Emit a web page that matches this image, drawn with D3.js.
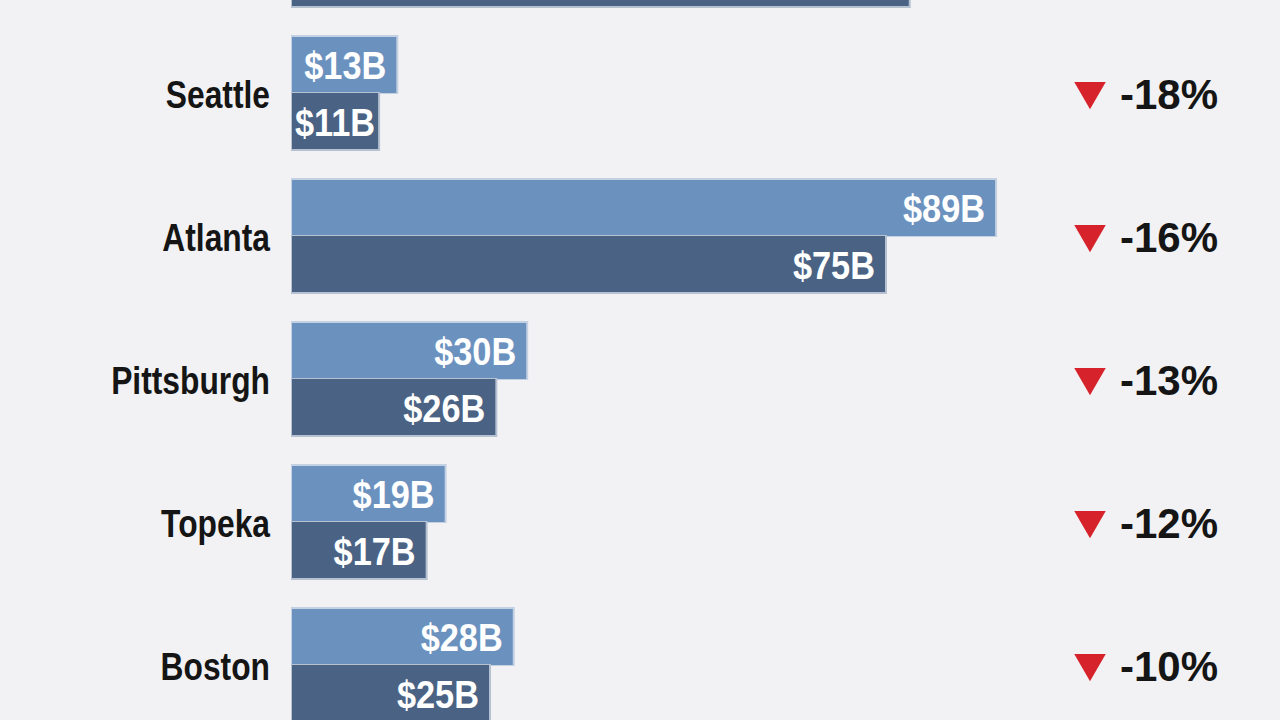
<!DOCTYPE html>
<html>
<head>
<meta charset="utf-8">
<script src="https://cdn.jsdelivr.net/npm/d3@7"></script>
<style>
  html, body { margin: 0; padding: 0; background: #f2f2f4; }
  svg { display: block; }
</style>
</head>
<body>
<svg id="chart" width="1280" height="720"></svg>
<script>
// Data (top row is cut off by the frame; only its lower bar's bottom edge shows)
const cities = ["(row above)", "Seattle", "Atlanta", "Pittsburgh", "Topeka", "Boston"];
const before = [97, 13.3, 88.9, 29.7, 19.4, 28.0];   // lighter (upper) bars, $B
const after  = [78, 11.0, 75.0, 25.8, 17.0, 25.0];   // darker (lower) bars, $B
const changes = ["", "-18%", "-16%", "-13%", "-12%", "-10%"];
const seriesKeys = ["before", "after"];

const W = 1280, H = 720;
const svg = d3.select("#chart");
svg.append("rect").attr("width", W).attr("height", H).attr("fill", "#f2f2f4");

const rows = cities.map((c, i) => ({ city: c, before: before[i], after: after[i], change: changes[i] }));

const x = d3.scaleLinear().domain([0, 100]).range([292, 292 + 792]);
const step = 143, p = 29 / 143, y0 = -107;
const y = d3.scaleBand().domain(cities)
  .range([y0, y0 + step * (cities.length - p)])
  .paddingInner(p).paddingOuter(0);
const ySub = d3.scaleBand().domain(seriesKeys).range([0, y.bandwidth()]);

const fill = { before: "#6b92bf", after: "#4a6384" };
const edge = { before: "#c3d1e3", after: "#b6c2d2" };
const condFont = "'Liberation Sans', Arial, sans-serif";
const fmt = v => `$${d3.format(".0f")(v)}B`;

const g = svg.append("g");
const row = g.selectAll("g.row").data(rows).join("g")
  .attr("class", "row")
  .attr("transform", d => `translate(0,${y(d.city)})`);

seriesKeys.forEach(k => {
  row.append("rect")
    .attr("x", x(0) - 1)
    .attr("y", ySub(k) - 1)
    .attr("width", d => x(d[k]) - x(0) + 2)
    .attr("height", ySub.bandwidth() + 2)
    .attr("fill", edge[k]);
  row.append("rect")
    .attr("x", x(0))
    .attr("y", ySub(k) + (k === "before" ? 1 : 0))
    .attr("width", d => x(d[k]) - x(0) - 1)
    .attr("height", ySub.bandwidth() - 1)
    .attr("fill", fill[k]);
  const sx = 0.88;
  row.filter(d => d.change).append("text")
    .attr("class", "val")
    .attr("text-anchor", "start")
    .attr("fill", "#ffffff")
    .style("font-family", condFont)
    .style("font-weight", "bold")
    .style("font-size", "39px")
    .text(d => fmt(d[k]))
    .each(function(d) {
      const w = this.getComputedTextLength() * sx;
      const xr = Math.max(x(d[k]) - 11, x(0) + 3 + w);
      d3.select(this).attr("transform",
        `translate(${xr - w},${ySub(k) + ySub.bandwidth() / 2 + 14}) scale(${sx},1)`);
    });
});

// City labels (condensed)
const cx = 0.815;
row.filter(d => d.change).append("text")
  .attr("text-anchor", "end")
  .attr("transform", `translate(270,${ySub.bandwidth() + 15}) scale(${cx},1)`)
  .attr("fill", "#151515")
  .style("font-family", condFont)
  .style("font-weight", "bold")
  .style("font-size", "39px")
  .text(d => d.city);

// Change markers
row.filter(d => d.change).append("path")
  .attr("d", d3.symbol().type(d3.symbolTriangle).size(430))
  .attr("transform", `translate(1090,${ySub.bandwidth() - 2}) rotate(180)`)
  .attr("fill", "#d6222a");

row.filter(d => d.change).append("text")
  .attr("x", 1120)
  .attr("y", ySub.bandwidth() + 16)
  .attr("fill", "#151515")
  .style("font-family", "'Liberation Sans', Arial, sans-serif")
  .style("font-weight", "bold")
  .style("font-size", "42px")
  .text(d => d.change);
</script>
</body>
</html>
